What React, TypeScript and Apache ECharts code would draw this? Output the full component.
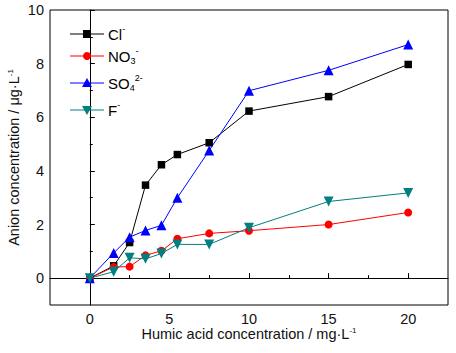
import React, { useEffect, useRef } from "react";
import * as echarts from "echarts";

const xValues = [0, 1.5, 2.5, 3.5, 4.5, 5.5, 7.5, 10, 15, 20];
const clValues = [0, 0.46, 1.33, 3.47, 4.23, 4.61, 5.05, 6.23, 6.77, 7.97];
const no3Values = [0, 0.42, 0.43, 0.85, 1.02, 1.47, 1.67, 1.77, 2.0, 2.45];
const so4Values = [0, 0.94, 1.53, 1.78, 1.97, 3.0, 4.76, 6.99, 7.75, 8.71];
const fValues = [0, 0.24, 0.76, 0.72, 0.92, 1.26, 1.26, 1.88, 2.86, 3.18];

const xMajorTicks = [0, 5, 10, 15, 20];
const xMinorTicks = [2.5, 7.5, 12.5, 17.5];
const yMajorTicks = [0, 2, 4, 6, 8, 10];
const yMinorTicks = [1, 3, 5, 7, 9];

const FONT = "Liberation Sans, Arial, sans-serif";
const TXT = "#111";

const pairs = (ys: number[]) => xValues.map((x, i) => [x, ys[i]]);

export default function App() {
  const ref = useRef<HTMLDivElement>(null);
  useEffect(() => {
    if (!ref.current) return;
    const chart = echarts.init(ref.current, null, { renderer: "svg" });
    const supRich = {
      sup: { fontSize: 9, fontFamily: FONT, color: TXT, verticalAlign: "top", lineHeight: 19 },
      sub: { fontSize: 9, fontFamily: FONT, color: TXT, verticalAlign: "bottom", lineHeight: 19 },
      base: { fontSize: 15, fontFamily: FONT, color: TXT, lineHeight: 19 },
    };
    const titleRich = {
      base: { fontSize: 14.5, fontFamily: FONT, color: TXT, lineHeight: 15 },
      sup: { fontSize: 8, fontFamily: FONT, color: TXT, verticalAlign: "top", lineHeight: 15 },
    };
    const legendItems = [
      { y: 34, color: "#000000", text: "{base|Cl}{sup|-}" },
      { y: 56, color: "#ff0000", text: "{base|NO}{sub|3}{sup|-}" },
      { y: 83, color: "#0000ff", text: "{base|SO}{sub|4}{sup|2-}" },
      { y: 110, color: "#008080", text: "{base|F}{sup|-}" },
    ];
    const graphics: any[] = [];
    legendItems.forEach((it, i) => {
      graphics.push({
        type: "line",
        shape: { x1: 70, y1: it.y, x2: 104, y2: it.y },
        style: { stroke: it.color, lineWidth: 1 },
        z: 10,
      });
      if (i === 0)
        graphics.push({ type: "rect", shape: { x: 83, y: it.y - 4, width: 8, height: 8 }, style: { fill: it.color }, z: 11 });
      if (i === 1)
        graphics.push({ type: "circle", shape: { cx: 87, cy: it.y, r: 4 }, style: { fill: it.color }, z: 11 });
      if (i === 2)
        graphics.push({ type: "polygon", shape: { points: [[87, it.y - 5], [82, it.y + 4], [92, it.y + 4]] }, style: { fill: it.color }, z: 11 });
      if (i === 3)
        graphics.push({ type: "polygon", shape: { points: [[82, it.y - 4], [92, it.y - 4], [87, it.y + 5]] }, style: { fill: it.color }, z: 11 });
      graphics.push({
        type: "text",
        x: 108,
        y: it.y,
        z: 11,
        style: { text: it.text, rich: supRich, verticalAlign: "middle", align: "left" },
      });
    });

    const series = [
      { name: "Cl", data: pairs(clValues), color: "#000000", symbol: "rect", symbolSize: 7.5, symbolRotate: 0 },
      { name: "NO3", data: pairs(no3Values), color: "#ff0000", symbol: "circle", symbolSize: 8, symbolRotate: 0 },
      { name: "SO4", data: pairs(so4Values), color: "#0000ff", symbol: "triangle", symbolSize: 10, symbolRotate: 0 },
      { name: "F", data: pairs(fValues), color: "#008080", symbol: "triangle", symbolSize: 10, symbolRotate: 180 },
    ].map((s) => ({
      type: "line",
      name: s.name,
      data: s.data,
      symbol: s.symbol,
      symbolSize: s.symbolSize,
      symbolRotate: s.symbolRotate,
      showSymbol: true,
      itemStyle: { color: s.color, borderWidth: 0 },
      lineStyle: { color: s.color, width: 1 },
      xAxisIndex: 0,
      yAxisIndex: 0,
    }));

    const baseAxisLine = { show: true, lineStyle: { color: "#000", width: 1 } };

    chart.setOption({
      animation: false,
      backgroundColor: "#fff",
      grid: {
        left: 50,
        top: 10,
        right: 8,
        bottom: 48,
        containLabel: false,
        outerBoundsMode: "none",
        show: true,
        borderColor: "#000",
        borderWidth: 1,
        backgroundColor: "transparent",
      },
      xAxis: [
        {
          type: "value",
          min: -2.5,
          max: 22.5,
          position: "bottom",
          axisLine: baseAxisLine,
          axisTick: { show: true, inside: true, length: 5, customValues: xMajorTicks, lineStyle: { color: "#000" } },
          axisLabel: { show: true, customValues: xMajorTicks, margin: 8, fontSize: 14.5, lineHeight: 12, fontFamily: FONT, color: TXT },
          splitLine: { show: false },
          name: "{base|Humic acid concentration / mg·L}{sup|-1}",
          nameLocation: "middle",
          nameGap: 21,
          nameMoveOverlap: false,
          nameTextStyle: { rich: titleRich, fontSize: 14.5, fontFamily: FONT, color: TXT },
        },
        {
          type: "value",
          min: -2.5,
          max: 22.5,
          position: "bottom",
          axisLine: { show: false },
          axisTick: { show: true, inside: true, length: 3, customValues: xMinorTicks, lineStyle: { color: "#000" } },
          axisLabel: { show: false },
          splitLine: { show: false },
        },
      ],
      yAxis: [
        {
          type: "value",
          min: -1,
          max: 10,
          position: "left",
          axisLine: baseAxisLine,
          axisTick: { show: true, inside: true, length: 5, customValues: yMajorTicks, lineStyle: { color: "#000" } },
          axisLabel: { show: true, customValues: yMajorTicks, margin: 6, fontSize: 14.5, fontFamily: FONT, color: TXT },
          splitLine: { show: false },
          name: "{base|Anion concentration / μg·L}{sup|-1}",
          nameLocation: "middle",
          nameGap: 29,
          nameMoveOverlap: false,
          nameRotate: 90,
          nameTextStyle: { rich: titleRich, fontSize: 14.5, fontFamily: FONT, color: TXT },
        },
        {
          type: "value",
          min: -1,
          max: 10,
          position: "left",
          axisLine: { show: false },
          axisTick: { show: true, inside: true, length: 3, customValues: yMinorTicks, lineStyle: { color: "#000" } },
          axisLabel: { show: false },
          splitLine: { show: false },
        },
      ],
      series,
      graphic: graphics,
    });
    return () => chart.dispose();
  }, []);
  return <div ref={ref} style={{ width: 456, height: 353, position: "absolute", left: 0, top: 0 }} />;
}
